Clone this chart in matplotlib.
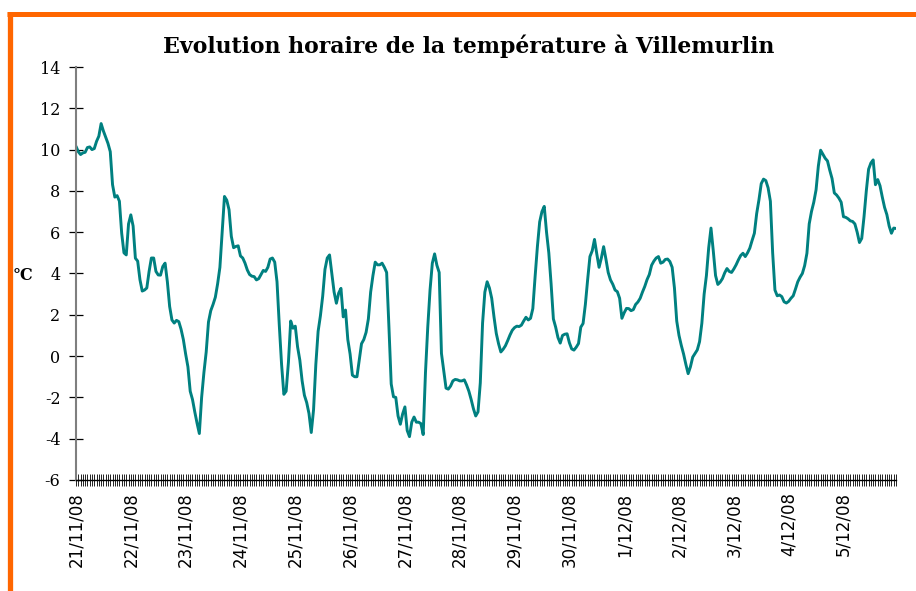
import matplotlib
matplotlib.use("Agg")
import matplotlib.pyplot as plt
from matplotlib.lines import Line2D

plt.rcParams["axes.unicode_minus"] = False

title = "Evolution horaire de la température à Villemurlin"
unit_label = "°C"

day_labels = ["21/11/08", "22/11/08", "23/11/08", "24/11/08", "25/11/08",
              "26/11/08", "27/11/08", "28/11/08", "29/11/08", "30/11/08",
              "1/12/08", "2/12/08", "3/12/08", "4/12/08", "5/12/08"]
hours_per_day = 24

# hourly temperature (°C), one row per day
temperature_c = [
    10.16, 9.9, 9.76, 9.84, 9.87, 10.1, 10.13, 10.0, 10.05, 10.4, 10.65, 11.26,
    10.9, 10.6, 10.3, 9.9, 8.3, 7.7, 7.77, 7.5, 5.95, 5.0, 4.9, 6.4,
    6.84, 6.3, 4.74, 4.6, 3.7, 3.15, 3.2, 3.3, 4.1, 4.75, 4.75, 4.1,
    3.93, 3.92, 4.34, 4.5, 3.6, 2.4, 1.75, 1.6, 1.73, 1.67, 1.3, 0.8,
    0.1, -0.52, -1.7, -2.1, -2.7, -3.25, -3.75, -2.0, -0.8, 0.2, 1.65, 2.2,
    2.5, 2.85, 3.5, 4.3, 6.0, 7.73, 7.55, 7.09, 5.8, 5.25, 5.31, 5.34,
    4.85, 4.75, 4.5, 4.17, 3.95, 3.87, 3.85, 3.69, 3.75, 3.95, 4.15, 4.1,
    4.3, 4.7, 4.75, 4.55, 3.6, 1.5, -0.4, -1.85, -1.7, -0.3, 1.7, 1.35,
    1.45, 0.45, -0.2, -1.2, -1.9, -2.25, -2.78, -3.7, -2.6, -0.4, 1.2, 1.95,
    2.9, 4.2, 4.75, 4.9, 4.0, 3.1, 2.56, 3.05, 3.28, 1.9, 2.23, 0.8,
    0.1, -0.92, -1.0, -1.0, -0.2, 0.6, 0.8, 1.15, 1.8, 3.1, 3.9, 4.55,
    4.42, 4.42, 4.5, 4.3, 4.05, 1.42, -1.35, -1.97, -2.0, -2.9, -3.3, -2.8,
    -2.46, -3.6, -3.9, -3.2, -2.95, -3.2, -3.2, -3.27, -3.8, -0.8, 1.4, 3.2,
    4.5, 4.95, 4.4, 4.05, 0.13, -0.7, -1.55, -1.6, -1.45, -1.2, -1.13, -1.15,
    -1.2, -1.2, -1.15, -1.4, -1.7, -2.1, -2.55, -2.9, -2.7, -1.3, 1.6, 3.1,
    3.6, 3.3, 2.8, 1.9, 1.1, 0.6, 0.2, 0.33, 0.5, 0.75, 1.02, 1.25,
    1.38, 1.45, 1.43, 1.5, 1.7, 1.88, 1.75, 1.83, 2.3, 3.85, 5.3, 6.5,
    7.0, 7.25, 6.0, 5.0, 3.5, 1.8, 1.4, 0.9, 0.63, 1.0, 1.06, 1.08,
    0.65, 0.35, 0.29, 0.43, 0.61, 1.4, 1.58, 2.5, 3.7, 4.82, 5.1, 5.65,
    4.95, 4.3, 4.75, 5.3, 4.7, 4.05, 3.69, 3.48, 3.2, 3.12, 2.8, 1.83,
    2.1, 2.31, 2.3, 2.2, 2.25, 2.5, 2.62, 2.8, 3.1, 3.37, 3.7, 3.95,
    4.4, 4.6, 4.75, 4.82, 4.5, 4.55, 4.68, 4.7, 4.58, 4.3, 3.3, 1.7,
    1.0, 0.52, 0.1, -0.4, -0.85, -0.52, -0.05, 0.13, 0.3, 0.7, 1.59, 3.0,
    3.9, 5.25, 6.2, 5.1, 3.9, 3.47, 3.58, 3.75, 4.03, 4.24, 4.1, 4.05,
    4.22, 4.42, 4.66, 4.87, 4.98, 4.82, 5.0, 5.23, 5.6, 5.95, 6.9, 7.57,
    8.35, 8.57, 8.5, 8.15, 7.5, 5.0, 3.2, 2.92, 2.96, 2.88, 2.63, 2.57,
    2.65, 2.8, 2.92, 3.25, 3.6, 3.82, 4.0, 4.38, 4.98, 6.4, 7.0, 7.45,
    8.05, 9.2, 9.97, 9.78, 9.58, 9.45, 9.0, 8.6, 7.9, 7.8, 7.65, 7.45,
    6.75, 6.72, 6.65, 6.55, 6.52, 6.4, 6.0, 5.5, 5.7, 6.75, 8.0, 9.05,
    9.35, 9.5, 8.3, 8.55, 8.25, 7.7, 7.2, 6.85, 6.3, 5.95, 6.2, 6.18,
]

y_ticks = [14, 12, 10, 8, 6, 4, 2, 0, -2, -4, -6]

W, H = 916, 591
fig = plt.figure(figsize=(W / 100, H / 100), dpi=100)
fig.patch.set_facecolor("white")

ax = fig.add_axes([76 / W, 111 / H, 820 / W, 413 / H])
hours = list(range(len(temperature_c)))
ax.plot(hours, temperature_c, color="#008080", lw=2.1,
        solid_joinstyle="round", solid_capstyle="round")

ax.set_xlim(0, len(temperature_c) - 1)
ax.set_ylim(-6, 14)

for side in ("top", "right"):
    ax.spines[side].set_visible(False)
ax.spines["left"].set_color("#7f7f7f")
ax.spines["left"].set_linewidth(1.5)
ax.spines["bottom"].set_color("black")
ax.spines["bottom"].set_linewidth(1.0)

ax.set_yticks(y_ticks)
ax.set_yticklabels([str(v) for v in y_ticks], fontfamily="DejaVu Serif",
                   fontsize=11.5)
ax.tick_params(axis="y", direction="inout", length=9.4, width=0.9,
               color="black", pad=6.5)

major = list(range(0, len(day_labels) * hours_per_day, hours_per_day))
ax.set_xticks(major)
ax.set_xticklabels(day_labels, rotation=90, fontfamily="DejaVu Sans",
                   fontsize=12, va="top", ha="center")
ax.set_xticks(hours, minor=True)
ax.tick_params(axis="x", which="both", direction="inout", length=9,
               width=0.7, color="#222222", pad=4.5)

fig.text(468.5 / W, (H - 53) / H, title, ha="center", va="baseline",
         fontfamily="DejaVu Serif", fontweight="bold", fontsize=15.8)
fig.text(13 / W, (H - 276) / H, unit_label, ha="left", va="center",
         fontfamily="DejaVu Serif", fontweight="bold", fontsize=11.5)

orange = "#FF6600"
fig.add_artist(Line2D([10 / W, 10 / W], [0, (H - 11.7) / H], color=orange,
                      lw=3.8, solid_capstyle="butt"))
fig.add_artist(Line2D([7.3 / W, 1.0], [(H - 14.2) / H, (H - 14.2) / H],
                      color=orange, lw=3.6, solid_capstyle="butt"))

fig.savefig("out.png", dpi=100, facecolor="white")
